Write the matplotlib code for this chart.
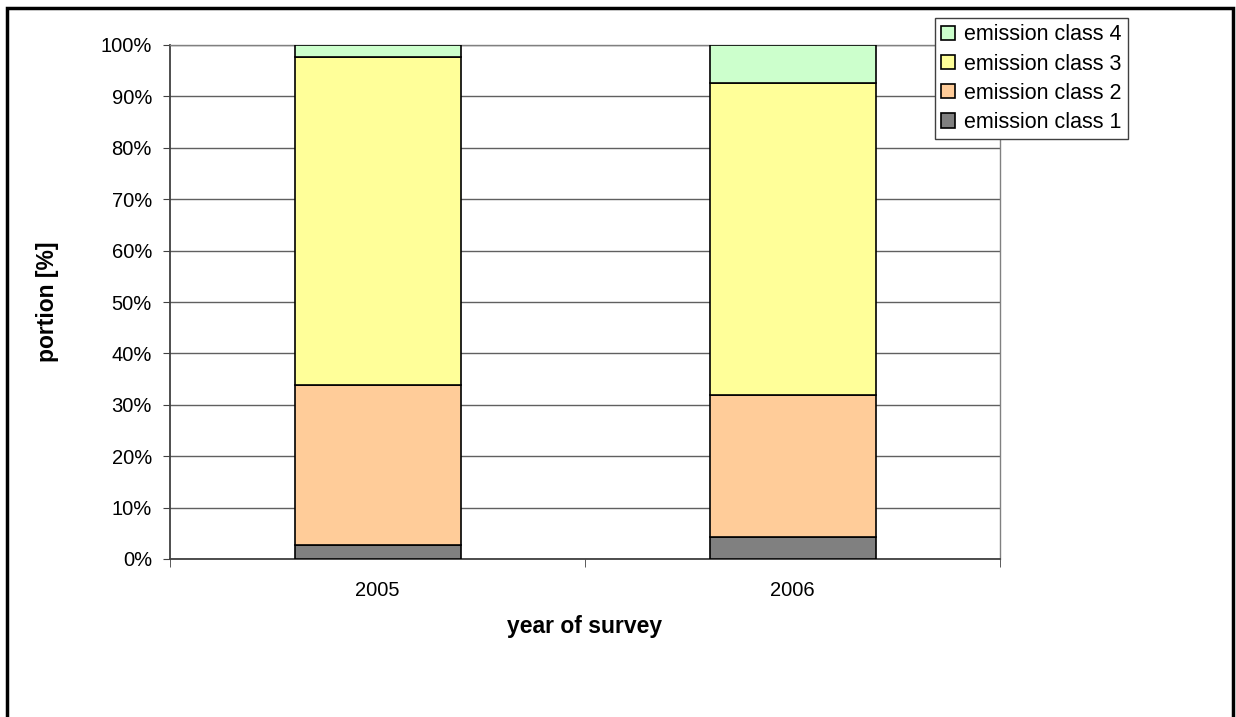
import numpy as np
import matplotlib
matplotlib.use('Agg')
import matplotlib.pyplot as plt
from matplotlib.patches import Rectangle
from matplotlib.ticker import PercentFormatter

plt.rcParams['font.family'] = ['Liberation Sans', 'DejaVu Sans']

# значения (%)
years = ['2005', '2006']
class1 = [2.7, 4.2]
class2 = [31.1, 27.7]
class3 = [63.9, 60.8]
class4 = [2.3, 7.3]
labels = ['emission class 1', 'emission class 2', 'emission class 3', 'emission class 4']
colors = ['#808080', '#FFCC99', '#FFFF99', '#CCFFCC']

W, H = 1236, 717
fig = plt.figure(figsize=(W / 100, H / 100), dpi=100)
ax = fig.add_axes([170 / W, 1 - 559 / H, 830 / W, 514 / H])

# рамка вокруг всей картинки
fig.patches.append(Rectangle((7 / W, -0.05), 1226 / W, 1 - 8 / H + 0.05,
                             transform=fig.transFigure, fill=False,
                             edgecolor='black', linewidth=2.5, zorder=0))

x = np.arange(len(years))
series = [class1, class2, class3, class4]
bottom = np.zeros(len(years))
bars = []
for vals, lab, col in zip(series, labels, colors):
    b = ax.bar(x, vals, width=0.4, bottom=bottom, color=col, edgecolor='black',
               linewidth=1.2, label=lab, zorder=3)
    bars.append(b)
    bottom += np.array(vals)

ax.set_xlim(-0.5, 1.5)
ax.set_ylim(0, 100)
ax.set_yticks(np.arange(0, 101, 10))
ax.yaxis.set_major_formatter(PercentFormatter(decimals=0))
ax.set_xticks(x)
ax.set_xticklabels(years)
ax.set_xticks([-0.5, 0.5, 1.5], minor=True)
ax.tick_params(axis='x', which='major', length=0, pad=16, labelsize=14.5)
ax.tick_params(axis='x', which='minor', length=6, direction='out', color='#404040')
ax.tick_params(axis='y', length=5, direction='out', color='#404040', labelsize=14.5, pad=8)

ax.grid(axis='y', color='#606060', linewidth=1, zorder=0)
for s in ['top', 'right']:
    ax.spines[s].set_color('#808080')
    ax.spines[s].set_linewidth(1)
for s in ['left', 'bottom']:
    ax.spines[s].set_color('#404040')
    ax.spines[s].set_linewidth(1.3)

ax.set_xlabel('year of survey', fontsize=16.5, fontweight='bold', labelpad=11)
ax.set_ylabel('portion [%]', fontsize=16.5, fontweight='bold', labelpad=30)

handles = bars[::-1]
leg = fig.legend(handles, labels[::-1], loc='upper left',
                 bbox_to_anchor=(935 / W, 1 - 18 / H), fontsize=15.5,
                 frameon=True, fancybox=False, shadow=False, handlelength=0.65,
                 handleheight=0.65, handletextpad=0.4, labelspacing=0.38,
                 borderpad=0.3, borderaxespad=0)
leg.get_frame().set_edgecolor('#404040')
leg.get_frame().set_linewidth(1)
leg.get_frame().set_alpha(1)

fig.savefig('out.png', dpi=100)
